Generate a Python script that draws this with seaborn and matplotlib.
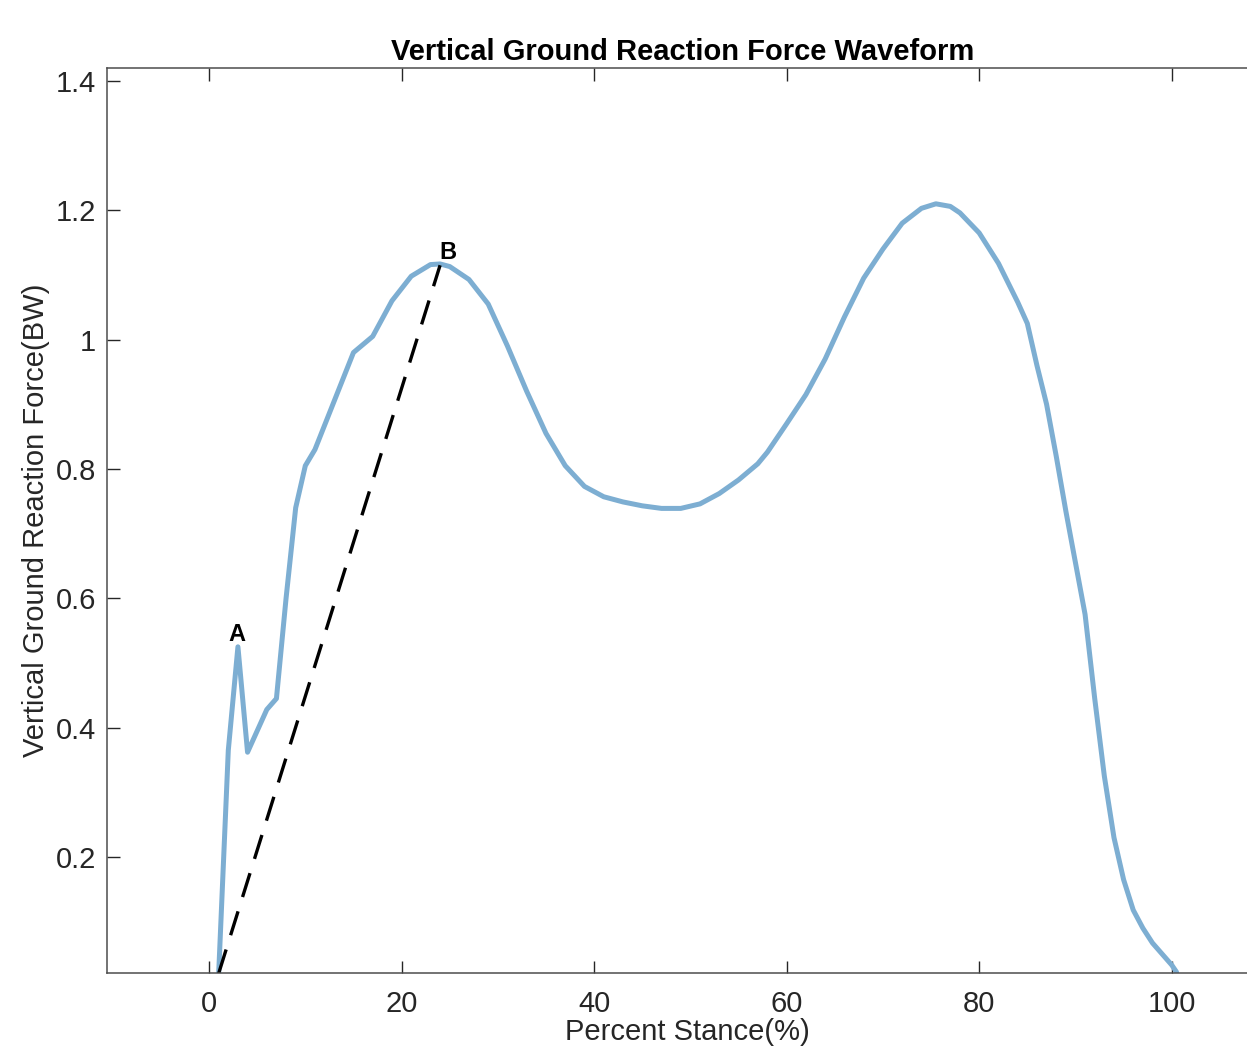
import matplotlib
matplotlib.use("Agg")
import matplotlib.pyplot as plt
import seaborn as sns
import pandas as pd

# percent of stance and vertical GRF (body weights)
stance_pct = [1, 2, 3, 4, 5, 6, 7, 8, 9, 10, 11, 13, 15, 17, 19, 21, 23, 24, 25, 27,
              29, 31, 33, 35, 37, 39, 41, 43, 45, 47, 49, 51, 53, 55, 57, 58, 60, 62,
              64, 66, 68, 70, 72, 74, 75.5, 77, 78, 80, 82, 84, 85, 86, 87, 88, 89, 90,
              91, 92, 93, 94, 95, 96, 97, 98, 99, 100, 100.5]
vgrf_bw = [0.02, 0.365, 0.525, 0.362, 0.395, 0.428, 0.445, 0.6, 0.74, 0.805, 0.83, 0.905,
           0.98, 1.005, 1.06, 1.098, 1.116, 1.117, 1.113, 1.093, 1.055, 0.99, 0.92, 0.855,
           0.805, 0.773, 0.757, 0.749, 0.743, 0.739, 0.739, 0.746, 0.762, 0.783, 0.808,
           0.826, 0.87, 0.915, 0.97, 1.035, 1.095, 1.14, 1.18, 1.203, 1.21, 1.206, 1.196,
           1.165, 1.118, 1.058, 1.025, 0.96, 0.9, 0.82, 0.735, 0.655, 0.575, 0.445, 0.325,
           0.23, 0.165, 0.118, 0.09, 0.067, 0.05, 0.033, 0.022]

# loading-rate line from foot strike to point B
slope_x = [1, 24]
slope_y = [0.02, 1.115]

marks = ["A", "B"]
mark_x = [2.9, 24.8]
mark_y = [0.534, 1.125]

x_ticks = [0, 20, 40, 60, 80, 100]
y_ticks = [0.2, 0.4, 0.6, 0.8, 1.0, 1.2, 1.4]
y_tick_labels = ["0.2", "0.4", "0.6", "0.8", "1", "1.2", "1.4"]

wave = pd.DataFrame({"stance": stance_pct, "force": vgrf_bw})
slope = pd.DataFrame({"stance": slope_x, "force": slope_y})

sns.set_style("ticks")
plt.rcParams["font.family"] = ["Liberation Sans", "DejaVu Sans"]

fig = plt.figure(figsize=(12.47, 10.46), dpi=100)
ax = fig.add_axes([107 / 1247, 1 - 973 / 1046, (1268 - 107) / 1247, (973 - 68) / 1046])

sns.lineplot(x="stance", y="force", data=wave, ax=ax, color="#7DAED2",
             linewidth=3.6, sort=False)
sns.lineplot(x="stance", y="force", data=slope, ax=ax, color="black",
             linewidth=2.4, dashes=False, sort=False)
ax.lines[-1].set_dashes([7.5, 4.5])

for m, mx, my in zip(marks, mark_x, mark_y):
    ax.text(mx, my, m, fontsize=17, fontweight="bold", color="black",
            ha="center", va="baseline")

ax.set_xlim(-10.6, 110)
ax.set_ylim(0.0206, 1.42)
ax.set_xticks(x_ticks)
ax.set_yticks(y_ticks)
ax.set_yticklabels(y_tick_labels)
ax.tick_params(direction="in", length=9, width=1, colors="#262626", labelsize=21,
               top=True, right=True)
ax.tick_params(axis="x", pad=12)
ax.tick_params(axis="y", pad=8)
for s in ax.spines.values():
    s.set_color("#4d4d4d")
    s.set_linewidth(1.1)

ax.set_title("Vertical Ground Reaction Force Waveform", fontsize=21,
             fontweight="bold", color="black", pad=6, x=0.496)
ax.set_xlabel("Percent Stance(%)", fontsize=21, color="#262626", labelpad=0.5)
ax.set_ylabel("Vertical Ground Reaction Force(BW)", fontsize=21, color="#262626",
              labelpad=4)

fig.savefig("out.png", dpi=100)
